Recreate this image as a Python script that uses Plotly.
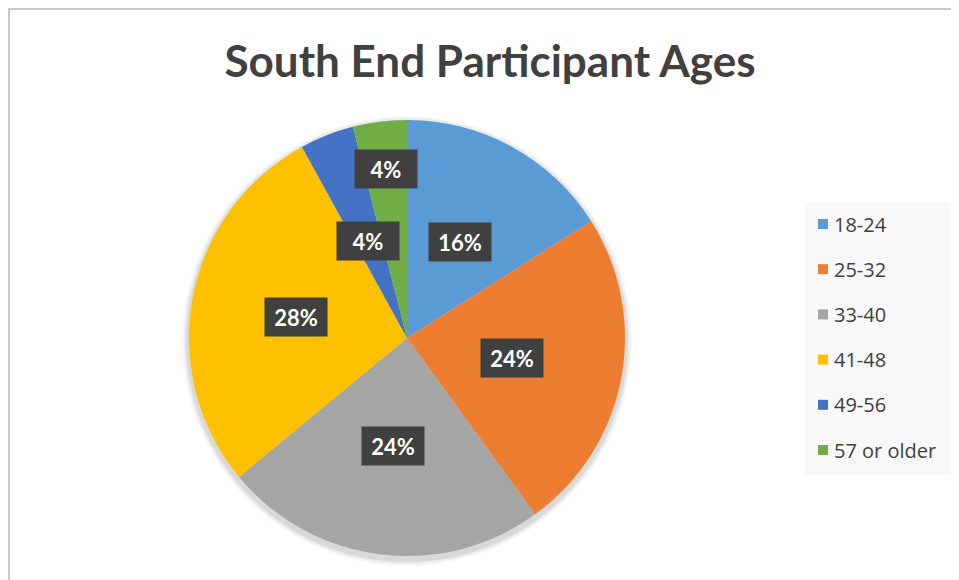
import math
import plotly.graph_objects as go

# ---- data ----
categories = ["18-24", "25-32", "33-40", "41-48", "49-56", "57 or older"]
shares = [16, 24, 24, 28, 4, 4]
title_text = "South End Participant Ages"

# ---- style ----
colors = ["#5B9BD5", "#ED7D31", "#A5A5A5", "#FFC000", "#4472C4", "#70AD47"]
label_radius = [0.5, 0.49, 0.5, 0.52, 0.48, 0.78]

OFF = 8                      # browser body margin
W, H = 959 - OFF, 580 - OFF  # figure size so it fits the window
def fx(px):  # page px -> paper x
    return (px - OFF) / W
def fy(py):  # page px -> paper y
    return 1 - (py - OFF) / H

cx_px, cy_px, R_px = 407, 338, 218

fig = go.Figure()
fig.add_trace(go.Pie(
    labels=categories, values=shares, sort=False, direction="clockwise",
    rotation=0, textinfo="none", showlegend=False,
    marker=dict(colors=colors, line=dict(width=0)),
    domain=dict(x=[fx(cx_px - R_px), fx(cx_px + R_px)],
                y=[fy(cy_px + R_px), fy(cy_px - R_px)]),
    hoverinfo="label+percent",
))

# chart-area border: only left and top edges are inside the window
bx, by = 9 - OFF, 9 - OFF
shapes = [dict(type="path", xref="paper", yref="paper",
               path=f"M {bx / W},0 L {bx / W},{1 - by / H} L 1,{1 - by / H}",
               line=dict(color="#C8C8C8", width=2))]

# soft shadow under the pie
for k, a in zip([7, 5, 3], [0.03, 0.05, 0.07]):
    shapes.append(dict(type="circle", xref="paper", yref="paper", layer="below",
                       x0=fx(cx_px - R_px - k), x1=fx(cx_px + R_px + k),
                       y0=fy(cy_px + 3 + R_px + k), y1=fy(cy_px + 3 - R_px - k),
                       line=dict(width=0), fillcolor=f"rgba(0,0,0,{a})"))

# data labels placed at slice mid-angles
total = sum(shares)
cum = 0
annotations = []
for v, rf in zip(shares, label_radius):
    mid = (cum + v / 2) / total * 2 * math.pi
    cum += v
    px = cx_px + rf * R_px * math.sin(mid)
    py = cy_px - rf * R_px * math.cos(mid)
    annotations.append(dict(
        x=fx(px), y=fy(py), xref="paper", yref="paper",
        text=f"<b>{round(v / total * 100)}%</b>", showarrow=False,
        font=dict(family="Lato, Open Sans, sans-serif", size=22, color="white"),
        bgcolor="#404040", borderpad=6, width=50, height=26,
        xanchor="center", yanchor="middle",
    ))

# legend box
leg_x0, leg_x1, leg_y0, leg_y1 = 805, 955, 203, 475
shapes.append(dict(type="rect", xref="paper", yref="paper",
                   x0=fx(leg_x0), x1=fx(leg_x1), y0=fy(leg_y1), y1=fy(leg_y0),
                   line=dict(width=0), fillcolor="#F8F8F8"))
first_y, step = 224, 45.2
for i, (c, col) in enumerate(zip(categories, colors)):
    yc = first_y + i * step
    shapes.append(dict(type="rect", xref="paper", yref="paper",
                       x0=fx(818), x1=fx(828), y0=fy(yc + 5), y1=fy(yc - 5),
                       line=dict(width=0), fillcolor=col))
    annotations.append(dict(
        x=fx(832), y=fy(yc), xref="paper", yref="paper", text=c,
        showarrow=False, xanchor="left", yanchor="middle",
        font=dict(family="Open Sans, sans-serif", size=20, color="#404040"),
    ))

fig.update_layout(
    width=W, height=H, margin=dict(l=0, r=0, t=0, b=0),
    paper_bgcolor="white", plot_bgcolor="white", showlegend=False,
    title=dict(text=f"<b>{title_text}</b>", x=fx(490), xanchor="center",
               y=fy(62), yanchor="middle",
               font=dict(family="Lato, Open Sans, sans-serif", size=44, color="#404040")),
    annotations=annotations,
    shapes=shapes,
)

fig.write_html("out.html")
